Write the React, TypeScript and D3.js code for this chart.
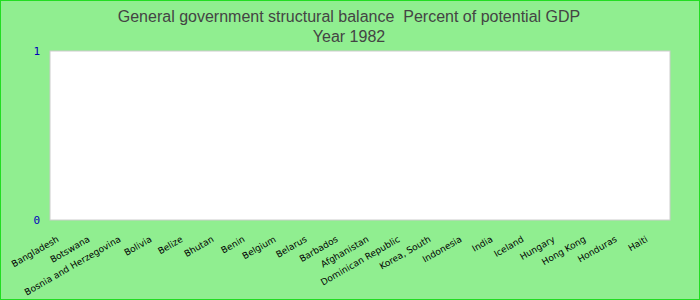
import React from "react";
import * as d3 from "d3";

const categories = [
  "Bangladesh", "Botswana", "Bosnia and Herzegovina", "Bolivia", "Belize", "Bhutan",
  "Benin", "Belgium", "Belarus", "Barbados", "Afghanistan", "Dominican Republic",
  "Korea, South", "Indonesia", "India", "Iceland", "Hungary", "Hong Kong", "Honduras", "Haiti",
];
const values: (number | null)[] = categories.map(() => null);
const yTicks = [0, 1];
const titleLines = ["General government structural balance  Percent of potential GDP", "Year 1982"];

const W = 700, H = 300;
const M = { left: 50, right: 30, top: 51, bottom: 80 };

export default function App() {
  const x = d3.scaleBand<string>().domain(categories).range([M.left, W - M.right]);
  const y = d3.scaleLinear().domain([0, 1]).range([H - M.bottom, M.top]);
  return (
    <div style={{ position: "fixed", left: 0, top: 0 }}>
      <svg width={W} height={H} style={{ display: "block" }}>
        <rect x={0.5} y={0.5} width={W - 1} height={H - 1} fill="#90EE90" stroke="#22dd22" strokeWidth={1} />
        {titleLines.map((t, i) => (
          <text key={i} x={349} y={22 + i * 20} textAnchor="middle" fontFamily="Liberation Sans, Arial, sans-serif" fontSize={16} fill="#444" style={{ whiteSpace: "pre" }}>
            {t}
          </text>
        ))}
        <rect x={M.left} y={M.top} width={W - M.right - M.left} height={H - M.bottom - M.top} fill="#fff" stroke="#ccc" strokeWidth={1} />
        {values.map((v, i) =>
          v == null ? null : (
            <rect key={i} x={x(categories[i])!} y={y(Math.max(0, v))} width={x.bandwidth()} height={Math.abs(y(v) - y(0))} fill="steelblue" />
          )
        )}
        {yTicks.map((t) => (
          <text key={t} x={40} y={y(t) + 4} textAnchor="end" fontFamily="DejaVu Sans Mono, monospace" fontSize={11} fill="#0000bb">
            {t}
          </text>
        ))}
        {categories.map((c) => {
          const cx = x(c)! + x.bandwidth() / 2 - 6;
          const cy = H - M.bottom + 21;
          return (
            <text key={c} x={cx} y={cy} textAnchor="end" fontFamily="DejaVu Sans, Verdana, sans-serif" fontSize={9} fill="#000" transform={`rotate(-30 ${cx} ${cy})`}>
              {c}
            </text>
          );
        })}
      </svg>
    </div>
  );
}
